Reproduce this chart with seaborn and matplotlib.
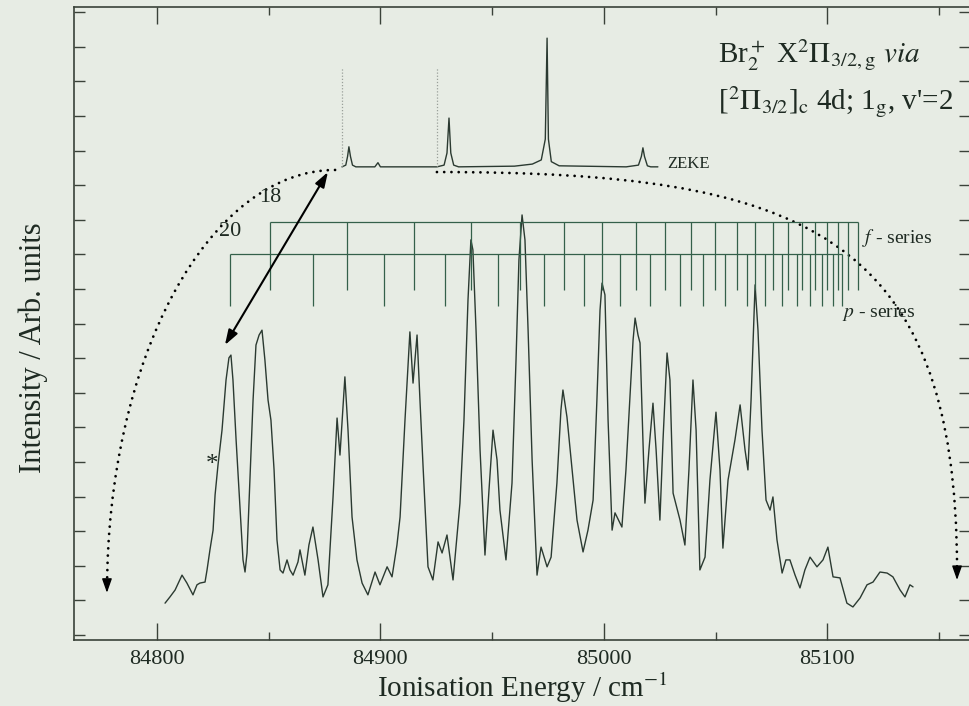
import numpy as np
import pandas as pd
import matplotlib
matplotlib.use("Agg")
import matplotlib.pyplot as plt
import seaborn as sns
from matplotlib.path import Path
from matplotlib.patches import PathPatch, Arc
from matplotlib.ticker import MultipleLocator

# ---------------- data ----------------
# Photo-ion spectrum: ionisation energy (cm-1) and intensity (arb. units)
energy = [84803.6, 84805.8, 84808.1, 84811.2, 84813.4, 84816.1, 84817.9, 84819.2, 84821.5, 84822.4,
          84823.7, 84825.1, 84826.0, 84827.3, 84829.1, 84830.9, 84832.2, 84833.1, 84834.0, 84835.4,
          84837.2, 84838.5, 84839.4, 84840.3, 84841.6, 84843.0, 84844.3, 84845.7, 84847.0, 84848.3,
          84849.7, 84851.0, 84852.4, 84853.7, 84855.1, 84856.4, 84858.2, 84859.5, 84860.9, 84863.1,
          84864.0, 84866.2, 84868.0, 84869.8, 84872.1, 84874.3, 84876.5, 84878.8, 84880.6, 84881.9,
          84884.1, 84885.5, 84887.3, 84889.5, 84891.8, 84894.4, 84897.6, 84899.8, 84903.0, 84905.2,
          84907.4, 84908.8, 84911.0, 84913.2, 84914.6, 84916.4, 84917.7, 84919.1, 84921.3, 84923.5,
          84925.8, 84927.6, 84929.8, 84932.5, 84935.6, 84937.4, 84939.2, 84940.5, 84941.4, 84942.8,
          84944.6, 84946.8, 84948.6, 84950.4, 84952.2, 84953.5, 84956.2, 84958.9, 84960.7, 84962.0,
          84963.4, 84964.7, 84966.1, 84967.9, 84970.1, 84971.9, 84974.6, 84976.4, 84979.0, 84980.8,
          84981.7, 84983.5, 84985.8, 84988.0, 84990.7, 84992.9, 84995.2, 84996.9, 84998.3, 84999.2,
          85000.5, 85001.9, 85003.7, 85005.0, 85008.1, 85009.9, 85011.7, 85013.1, 85014.0, 85015.3,
          85016.2, 85017.5, 85018.4, 85020.2, 85022.0, 85023.4, 85025.1, 85026.5, 85028.3, 85029.6,
          85031.0, 85034.1, 85036.3, 85038.1, 85039.9, 85041.3, 85043.0, 85045.3, 85047.5, 85050.2,
          85052.0, 85053.3, 85055.6, 85058.7, 85061.0, 85063.2, 85064.5, 85065.9, 85067.7, 85069.0,
          85070.8, 85072.6, 85074.4, 85075.7, 85077.5, 85079.8, 85081.5, 85083.3, 85085.6, 85087.8,
          85090.0, 85092.3, 85095.4, 85098.1, 85100.3, 85102.6, 85105.7, 85108.8, 85111.5, 85114.7,
          85117.8, 85120.5, 85123.6, 85126.8, 85129.4, 85132.6, 85134.8, 85137.0, 85138.4]
intensity = [0.92, 1.10, 1.30, 1.73, 1.50, 1.16, 1.45, 1.50, 1.53, 1.88,
             2.46, 3.03, 4.05, 4.91, 5.92, 7.37, 8.01, 8.09, 7.37, 5.64,
             3.61, 2.17, 1.82, 2.37, 4.48, 6.79, 8.38, 8.67, 8.81, 7.95,
             6.79, 6.21, 4.77, 2.75, 1.88, 1.79, 2.17, 1.88, 1.73, 2.11,
             2.46, 1.73, 2.60, 3.12, 2.17, 1.10, 1.45, 3.99, 6.27, 5.20,
             7.46, 5.92, 3.41, 2.17, 1.50, 1.16, 1.82, 1.45, 1.97, 1.68,
             2.60, 3.41, 6.21, 8.76, 7.28, 8.67, 6.79, 4.86, 1.97, 1.59,
             2.69, 2.37, 2.89, 1.59, 3.81, 6.21, 9.68, 11.42, 11.13, 8.81,
             5.35, 2.31, 4.19, 5.92, 5.06, 3.61, 2.17, 4.39, 7.95, 10.84,
             12.14, 11.42, 8.81, 5.06, 1.73, 2.54, 1.97, 2.25, 4.39, 6.50,
             7.08, 6.30, 4.77, 3.32, 2.40, 3.03, 3.90, 6.79, 9.39, 10.17,
             9.83, 6.21, 3.03, 3.53, 3.12, 4.77, 6.88, 8.53, 9.16, 8.67,
             8.44, 5.64, 3.81, 5.35, 6.70, 5.35, 3.32, 5.64, 8.15, 7.37,
             4.10, 3.32, 2.60, 4.77, 7.37, 5.92, 1.88, 2.25, 4.48, 6.44,
             4.77, 2.51, 4.48, 5.64, 6.65, 5.35, 4.77, 6.79, 10.12, 8.81,
             5.92, 3.90, 3.61, 3.99, 2.75, 1.79, 2.17, 2.17, 1.73, 1.36,
             1.88, 2.25, 1.97, 2.17, 2.54, 1.68, 1.65, 0.92, 0.81, 1.07,
             1.45, 1.53, 1.82, 1.79, 1.68, 1.30, 1.10, 1.45, 1.39]

# ZEKE spectrum (inset trace): energy and intensity above its own baseline
zeke_energy = [84882.8, 84884.5, 84885.3, 84885.9, 84886.6, 84887.5, 84889.0, 84897.5, 84898.9, 84900.0,
               84925.3, 84928.5, 84929.8, 84930.7, 84931.5, 84932.8, 84935.0, 84960.0, 84968.0, 84972.0,
               84973.8, 84974.6, 84975.2, 84976.5, 84980.0, 85010.0, 85015.5, 85016.8, 85017.5, 85018.2,
               85019.5, 85021.0, 85024.2]
zeke_intensity = [0.00, 0.05, 0.30, 0.58, 0.30, 0.05, 0.00, 0.00, 0.12, 0.00,
                  0.00, 0.05, 0.40, 1.41, 0.40, 0.05, 0.00, 0.02, 0.08, 0.20,
                  0.80, 3.72, 0.80, 0.15, 0.03, 0.00, 0.05, 0.30, 0.55, 0.30,
                  0.03, 0.00, 0.00]
zeke_markers = [84882.8, 84925.3]

# Rydberg series assignments (cm-1)
f_series = [84850.6, 84885.2, 84915.0, 84940.4, 84962.5, 84982.3, 84999.3, 85014.3, 85027.4, 85038.9,
            85049.8, 85059.5, 85067.7, 85075.9, 85082.6, 85088.6, 85094.5, 85099.8, 85105.0, 85109.4,
            85113.9]
p_series = [84832.7, 84869.7, 84901.6, 84928.9, 84952.5, 84973.4, 84991.3, 85007.2, 85020.7, 85034.1,
            85044.4, 85054.2, 85064.0, 85072.1, 85079.6, 85086.3, 85092.3, 85097.5, 85102.7, 85106.5]

xtick_values = [84800, 84900, 85000, 85100]

# ---------------- style ----------------
sns.set_theme(style="ticks")
plt.rcParams['font.family'] = ['Liberation Serif', 'DejaVu Serif']
plt.rcParams['mathtext.fontset'] = 'stix'

BG = '#e7ece4'
INK = '#1e2a22'
SPEC = '#2b3a31'
COMB = '#34604a'
SPINE = '#3a4239'

W, H = 969, 706
fig = plt.figure(figsize=(W / 100, H / 100), dpi=100, facecolor=BG)
ax = fig.add_axes([74 / W, 1 - 640 / H, (970 - 74) / W, (640 - 7) / H])
ax.set_facecolor(BG)

# main spectrum
df = pd.DataFrame({'E': energy, 'I': intensity})
sns.lineplot(data=df, x='E', y='I', ax=ax, sort=False, estimator=None,
             color=SPEC, linewidth=1.0)

# ZEKE trace placed above
zeke_base = 13.53
dz = pd.DataFrame({'E': zeke_energy, 'I': np.array(zeke_intensity) + zeke_base})
sns.lineplot(data=dz, x='E', y='I', ax=ax, sort=False, estimator=None,
             color=SPEC, linewidth=1.0)
ax.vlines(zeke_markers, zeke_base, 16.39, colors='#9aa09a', linestyles=(0, (1, 1.5)), linewidth=0.9)
ax.text(85028.3, 13.6, 'ZEKE', fontsize=12, color=INK, va='center', ha='left')

# series combs
f_top, f_bot = 11.94, 9.97
p_top, p_bot = 11.01, 9.51
ax.hlines(f_top, f_series[0], f_series[-1], colors=COMB, linewidth=0.9)
ax.vlines(f_series, f_bot, f_top, colors=COMB, linewidth=0.9)
ax.hlines(p_top, p_series[0], p_series[-1], colors=COMB, linewidth=0.9)
ax.vlines(p_series, p_bot, p_top, colors=COMB, linewidth=0.9)
ax.text(85115.6, 11.47, r'$f$ - series', fontsize=14, color=INK, va='center', ha='left')
ax.text(85106.6, 9.31, r'$p$ - series', fontsize=14, color=INK, va='center', ha='left')
ax.text(84850.6, 12.63, '18', fontsize=16, color=INK, va='center', ha='center')
ax.text(84832.7, 11.65, '20', fontsize=16, color=INK, va='center', ha='center')
ax.text(84824.6, 4.91, '*', fontsize=18, color=INK, va='center', ha='center')

# title text
ax.text(85051.1, 16.53, r'Br$_2^+$ X$^2\Pi_{3/2,\mathrm{g}}$ $via$', fontsize=21,
        color=INK, ha='left', va='baseline')
ax.text(85051.1, 15.17, r"[$^2\Pi_{3/2}$]$_\mathrm{c}$ 4d; 1$_\mathrm{g}$, v'=2", fontsize=21,
        color=INK, ha='left', va='baseline')

# dotted arcs with arrowheads
dot_style = (0, (0.01, 2.6))
left_arc = Arc((84879.7, 1.30), width=2 * 102.05, height=2 * 12.14, theta1=90, theta2=180,
               color='black', linewidth=2.0, linestyle=dot_style, capstyle='round')
ax.add_patch(left_arc)
verts = [(84925.3, 13.38), (85087.8, 13.38), (85158.1, 11.70), (85158.1, 1.85)]
codes = [Path.MOVETO, Path.CURVE4, Path.CURVE4, Path.CURVE4]
ax.add_patch(PathPatch(Path(verts, codes), fill=False, edgecolor='black', linewidth=2.0,
                       linestyle=dot_style, capstyle='round'))
for ex, tip in [(84777.6, 1.22), (85158.1, 1.59)]:
    ax.annotate('', xy=(ex, tip), xytext=(ex, tip + 0.35),
                arrowprops=dict(arrowstyle='-|>,head_length=0.85,head_width=0.3',
                                color='black', lw=1.0, shrinkA=0, shrinkB=0, mutation_scale=10))

# double-headed arrow linking ZEKE to spectrum
ax.annotate('', xy=(84876.5, 13.38), xytext=(84830.4, 8.38),
            arrowprops=dict(arrowstyle='<|-|>,head_length=0.9,head_width=0.3',
                            color='black', lw=1.5, shrinkA=0, shrinkB=0, mutation_scale=10))

# axes
ax.set_xlim(84762.85, 85163.9)
ax.set_ylim(-0.145, 18.15)
ax.set_xticks(xtick_values)
ax.set_xticklabels([str(v) for v in xtick_values])
ax.xaxis.set_minor_locator(MultipleLocator(50))
ax.set_yticks(range(0, 19))
ax.set_yticklabels([])
ax.tick_params(axis='x', which='major', direction='in', length=12, width=1.0, color=SPINE,
               top=True, bottom=True, labelsize=16, labelcolor=INK, pad=7)
ax.tick_params(axis='x', which='minor', direction='in', length=6, width=1.0, color=SPINE,
               top=True, bottom=True)
ax.tick_params(axis='y', which='major', direction='in', length=8, width=1.0, color=SPINE,
               left=True, right=True)
for s in ax.spines.values():
    s.set_color(SPINE)
    s.set_linewidth(1.2)

ax.set_xlabel(r'Ionisation Energy / cm$^{-1}$', fontsize=21, color=INK)
ax.xaxis.label.set_va('baseline')
ax.xaxis.set_label_coords(0.5, -0.09)
ax.set_ylabel('Intensity / Arb. units', fontsize=22, color=INK)
ax.yaxis.label.set_va('center')
ax.yaxis.set_label_coords(-0.0458, 0.461)

fig.savefig('out.png', dpi=100, facecolor=BG)
